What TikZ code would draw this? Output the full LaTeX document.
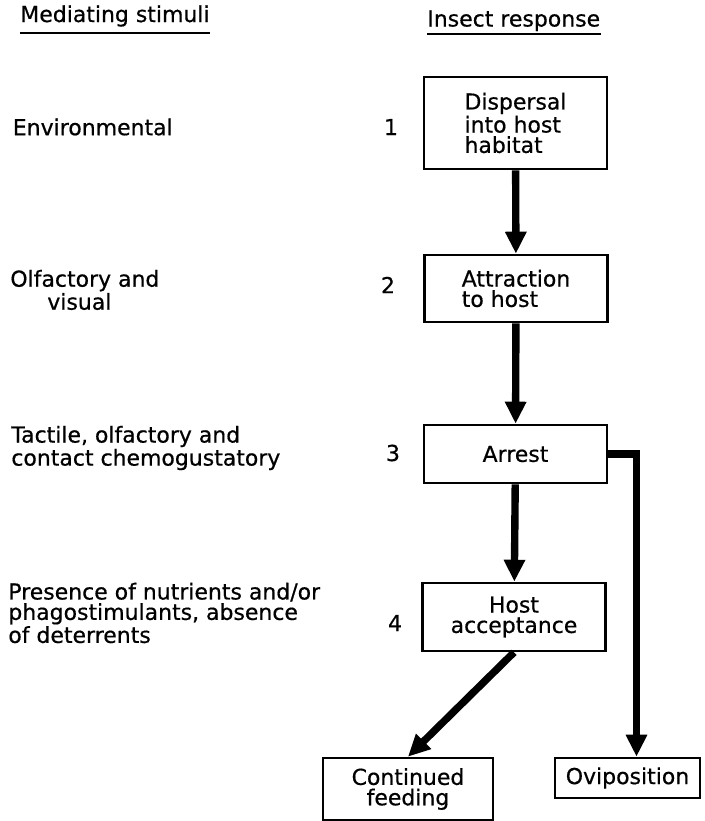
\documentclass[tikz,border=0pt]{standalone}
\usepackage{fontspec}
\setmainfont[FakeBold=0.6]{DejaVu Sans}
\usetikzlibrary{arrows.meta}
\begin{document}
\begin{tikzpicture}[line join=miter,
    every node/.style={font=\fontsize{12.5}{11.6}\selectfont},
    stagebox/.style={draw,line width=1.5pt,minimum width=3.66cm,inner sep=0pt},
    flow/.style={line width=4.2pt,-{Triangle[width=11.5pt,length=12.5pt]}},
    stimulus/.style={anchor=west,align=left,inner sep=0pt},
    colhead/.style={anchor=base west,inner sep=0pt}]
  \useasboundingbox (0,0) rectangle (14.08,-16.42);
  % column headings
  \node[colhead] (stimhead) at (0.4,-0.44) {Mediating stimuli};
  \node[colhead] (resphead) at (8.54,-0.53) {Insect response};
  \draw[line width=1.4pt] ([yshift=-6.3pt]stimhead.base west) -- ([yshift=-6.3pt]stimhead.base east);
  \draw[line width=1.4pt] ([yshift=-4.2pt]resphead.base west) -- ([yshift=-4.2pt]resphead.base east);
  % stimuli
  \node[stimulus] (env) at (0.25,-2.54) {Environmental};
  \node[stimulus] (olf) at (0.2,-5.8) {Olfactory and\\\hspace*{0.74cm}visual};
  \node[stimulus] (tac) at (0.22,-8.96) {Tactile, olfactory and\\contact chemogustatory};
  \node[stimulus] (pres) at (0.16,-12.26) {Presence of nutrients and/or\\phagostimulants, absence\\of deterrents};
  % stage numbers
  \node (n1) at (7.82,-2.54) {1};
  \node (n2) at (7.76,-5.7) {2};
  \node (n3) at (7.86,-9.06) {3};
  \node (n4) at (7.9,-12.46) {4};
  % insect response
  \node[stagebox,minimum height=1.84cm,align=left] (disp) at (10.31,-2.46) {Dispersal\\into host\\habitat};
  \node[stagebox,minimum height=1.34cm,align=left] (attr) at (10.32,-5.77) {Attraction\\to host};
  \node[stagebox,minimum height=1.16cm] (arrest) at (10.31,-9.08) {Arrest};
  \node[stagebox,minimum height=1.36cm,align=center] (accept) at (10.28,-12.34) {Host\\acceptance};
  \node[draw,line width=1.5pt,minimum width=3.4cm,minimum height=1.24cm,align=center,inner sep=0pt] (feed) at (8.16,-15.78) {Continued\\feeding};
  \node[draw,line width=1.5pt,minimum width=2.9cm,minimum height=0.8cm,inner sep=0pt] (ovi) at (12.55,-15.56) {Oviposition};
  \draw[flow] (disp) -- (attr);
  \draw[flow] (attr) -- (arrest);
  \draw[flow] (arrest) -- (accept);
  \draw[flow] (accept.south) -- (feed.north);
  \draw[flow] (arrest.east) -| ([xshift=0.18cm]ovi.north);
\end{tikzpicture}
\end{document}
